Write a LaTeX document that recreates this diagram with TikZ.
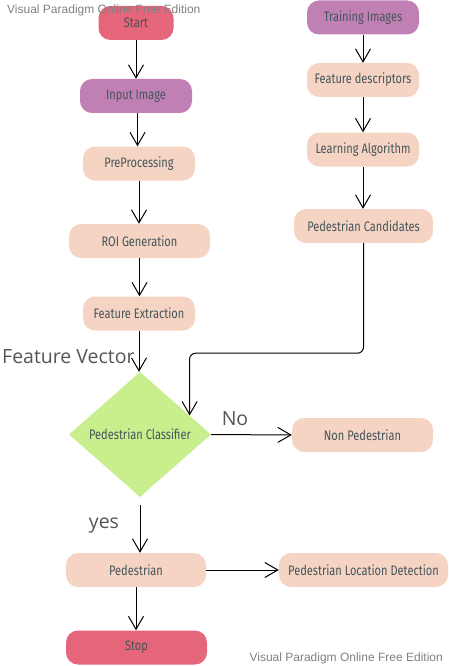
\documentclass[tikz,border=0pt]{standalone}
\usepackage{fontspec}
\setmainfont{Open Sans}
\newfontfamily\boxfont[FakeStretch=0.8]{Fira Sans}
\newfontfamily\markfont{Liberation Sans}
\usetikzlibrary{shapes.geometric,arrows.meta}

\definecolor{termred}{HTML}{E5667A}
\definecolor{mauve}{HTML}{C080B4}
\definecolor{peach}{HTML}{F5D4C4}
\definecolor{lime}{HTML}{C9EE8E}
\definecolor{boxtext}{HTML}{45555A}
\definecolor{labelgray}{HTML}{555555}
\definecolor{markgray}{HTML}{808080}

\tikzset{
  box/.style={rounded corners=12pt, minimum height=34pt, inner sep=0pt, draw=none,
    text=boxtext, font=\boxfont\fontsize{13.8}{15}\selectfont},
  terminal/.style={box, fill=termred},
  source/.style={box, fill=mauve},
  process/.style={box, fill=peach},
  decision/.style={diamond, fill=lime, inner sep=0pt, minimum width=142pt,
    minimum height=125pt, text=boxtext, font=\boxfont\fontsize{13.8}{15}\selectfont},
  link/.style={-{Straight Barb[length=13pt,width=15pt,line width=1pt]}, line width=1pt, black},
  note/.style={text=labelgray, font=\fontsize{19.5}{22}\selectfont, inner sep=0pt},
  wmark/.style={text=markgray, font=\markfont\fontsize{12}{14}\selectfont, inner sep=0pt}
}

\begin{document}
\begin{tikzpicture}[x=1pt,y=-1pt]
  \useasboundingbox (0,0) rectangle (449,666);
  % left column
  \node[terminal, minimum width=75pt] (start) at (136,23) {Start};
  \node[source, minimum width=112pt] (input) at (136,96) {Input Image};
  \node[process, minimum width=112pt] (prep) at (139,163.5) {PreProcessing};
  \node[process, minimum width=141pt] (roi) at (139.5,241) {ROI Generation};
  \node[process, minimum width=112pt] (featx) at (139,313.5) {Feature Extraction};
  \node[decision] (clf) at (140,434.5) {Pedestrian Classifier};
  \node[process, minimum width=141pt] (nonped) at (362.5,435) {Non Pedestrian};
  \node[process, minimum width=140pt] (ped) at (136,570) {Pedestrian};
  \node[process, minimum width=169pt] (pld) at (363.5,570) {Pedestrian Location Detection};
  \node[terminal, minimum width=141pt] (stop) at (136.5,647.5) {Stop};
  % right column
  \node[source, minimum width=112pt] (train) at (363,17.5) {Training Images};
  \node[process, minimum width=112pt] (fdesc) at (363,80) {Feature descriptors};
  \node[process, minimum width=112pt] (learn) at (363,149.5) {Learning Algorithm};
  \node[process, minimum width=139pt] (cand) at (363.5,226) {Pedestrian Candidates};
  % labels
  \node[note, anchor=west] (fvec) at (2,357) {Feature Vector};
  \node[note] (nolabel) at (235,419) {No};
  \node[note] (yeslabel) at (104,526) {yes};
  % connectors
  \draw[link] (start.south) -- (start.south |- input.north);
  \draw[link] ([xshift=1.5pt]input.south) -- ([xshift=1.5pt]input.south |- prep.north);
  \draw[link] (prep.south) -- (prep.south |- roi.north);
  \draw[link] (roi.south) -- (roi.south |- featx.north);
  \draw[link] (featx.south) -- (featx.south |- clf.north);
  \draw[link, rounded corners=6pt] (cand.south) -- ++(0,110) -| (clf.21);
  \draw[link] (clf.east) -- (nonped.west);
  \draw[link, shorten <=8pt] (clf.south) -- (clf.south |- ped.north);
  \draw[link] (ped.east) -- (pld.west);
  \draw[link] (ped.south) -- (ped.south |- stop.north);
  \draw[link] (train.south) -- (fdesc.north);
  \draw[link] (fdesc.south) -- (learn.north);
  \draw[link] (learn.south) -- (learn.south |- cand.north);
  % watermarks
  \node[wmark, anchor=north west] (wmtop) at (7,5) {Visual Paradigm Online Free Edition};
  \node[wmark, anchor=south east] (wmbot) at (443,664) {Visual Paradigm Online Free Edition};
\end{tikzpicture}
\end{document}
